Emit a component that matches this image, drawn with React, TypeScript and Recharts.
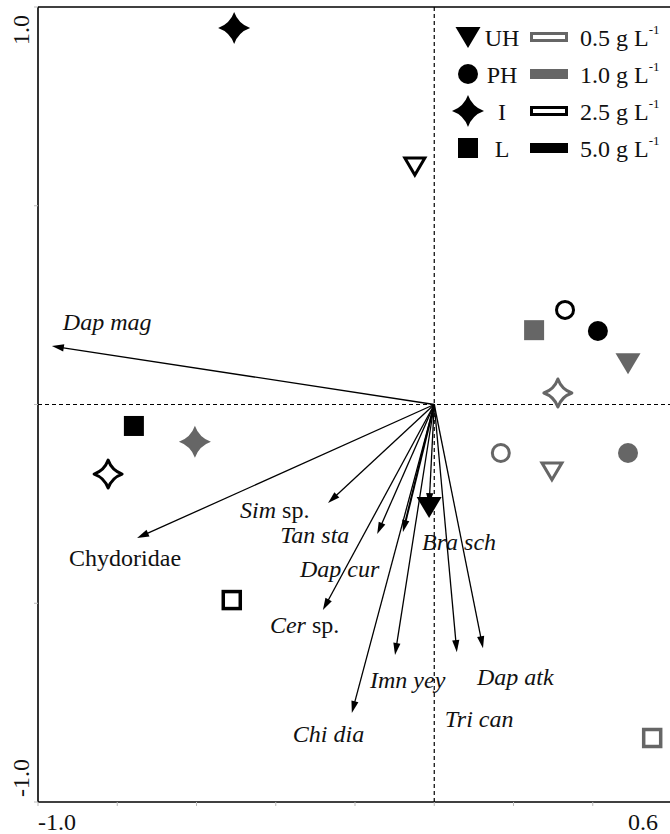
import React from "react";
import { ScatterChart, Scatter, XAxis, YAxis, ReferenceLine, Legend } from "recharts";

// sites and dose levels
const siteNames = ["UH", "PH", "I", "L"];
const doseLabels = ["0.5", "1.0", "2.5", "5.0"];

// sample scores, in dose order 0.5, 1.0, 2.5, 5.0 g/L
const uhX = [0.297, 0.489, -0.049, -0.013];
const uhY = [-0.167, 0.104, 0.6, -0.258];
const phX = [0.168, 0.489, 0.33, 0.413];
const phY = [-0.122, -0.122, 0.238, 0.185];
const iX = [0.312, -0.604, -0.823, -0.505];
const iY = [0.029, -0.094, -0.175, 0.947];
const lX = [0.55, 0.252, -0.511, -0.758];
const lY = [-0.839, 0.187, -0.492, -0.054];

// species arrows
const speciesNames = [
  "Dap mag", "Chydoridae", "Sim sp.", "Tan sta", "Dap cur", "Cer sp.",
  "Bra sch", "Imn yey", "Tri can", "Dap atk", "Chi dia",
];
const speciesX = [-0.965, -0.75, -0.268, -0.144, -0.079, -0.281, -0.013, -0.099, 0.057, 0.123, -0.208];
const speciesY = [0.147, -0.336, -0.248, -0.326, -0.321, -0.517, -0.253, -0.63, -0.623, -0.613, -0.776];

const xTicks = [-1, -0.8, -0.6, -0.4, -0.2, 0, 0.2, 0.4, 0.6];
const yTicks = [-1, -0.5, 0, 0.5, 1];

// label placement relative to arrow tip (px)
const labelOffsets = [
  [11, -16], [-68, 28], [-88, 15], [-97, 9], [-103, 45], [-53, 23],
  [-7, 45], [-25, 33], [-12, 75], [-6, 37], [-59, 29],
];

const GRAY = "#666";
const FONT = "'Liberation Serif', 'Times New Roman', serif";

const siteX = [uhX, phX, iX, lX];
const siteY = [uhY, phY, iY, lY];

function starPath(cx: number, cy: number, r: number) {
  const c = r * 0.26;
  return `M${cx},${cy - r} Q${cx + c},${cy - c} ${cx + r},${cy} Q${cx + c},${cy + c} ${cx},${cy + r} Q${cx - c},${cy + c} ${cx - r},${cy} Q${cx - c},${cy - c} ${cx},${cy - r} Z`;
}

function Marker({ kind, dose, cx, cy }: { kind: number; dose: number; cx: number; cy: number }) {
  const open = dose === 0 || dose === 2;
  const color = dose < 2 ? GRAY : "#000";
  const fill = open ? "#fff" : color;
  const sw = open ? 3 : 0;
  if (kind === 0) {
    const pts = open
      ? `${cx - 10},${cy - 8} ${cx + 10},${cy - 8} ${cx},${cy + 9}`
      : `${cx - 12.5},${cy - 10} ${cx + 12.5},${cy - 10} ${cx},${cy + 11}`;
    return <polygon points={pts} fill={fill} stroke={color} strokeWidth={sw} />;
  }
  if (kind === 1) {
    return <circle cx={cx} cy={cy} r={open ? 8.5 : 10} fill={fill} stroke={color} strokeWidth={sw} />;
  }
  if (kind === 2) {
    return <path d={starPath(cx, cy, open ? 14 : 16)} fill={fill} stroke={color} strokeWidth={sw} strokeLinejoin="round" />;
  }
  const s = open ? 17 : 20;
  return <rect x={cx - s / 2} y={cy - s / 2} width={s} height={s} fill={fill} stroke={color} strokeWidth={open ? 3.5 : 0} />;
}

function speciesLabel(name: string) {
  const parts = name.split(" ");
  if (parts.length === 1) return <tspan>{name}</tspan>;
  return (
    <>
      <tspan fontStyle="italic">{parts[0]}</tspan>
      <tspan fontStyle={parts[1] === "sp." ? "normal" : "italic"}>{" " + parts[1]}</tspan>
    </>
  );
}

function arrowShape(i: number) {
  return (p: any) => {
    const { x1, y1, x2, y2 } = p;
    const a = Math.atan2(y2 - y1, x2 - x1);
    const cos = Math.cos(a);
    const sin = Math.sin(a);
    const len = 12;
    const half = 3.6;
    const bx = x2 - len * cos;
    const by = y2 - len * sin;
    const pts = `${x2},${y2} ${bx - half * sin},${by + half * cos} ${bx + half * sin},${by - half * cos}`;
    const [dx, dy] = labelOffsets[i];
    return (
      <g>
        <line x1={x1} y1={y1} x2={bx + 2 * cos} y2={by + 2 * sin} stroke="#000" strokeWidth={i === 4 ? 2 : 1.3} />
        <polygon points={pts} fill="#000" />
        <text x={x2 + dx} y={y2 + dy} fontSize={24} fontFamily={FONT} fill="#111">
          {speciesLabel(speciesNames[i])}
        </text>
      </g>
    );
  };
}

function XTick(props: any) {
  const { x, y, payload } = props;
  const v = payload.value;
  if (Math.abs(v + 1) < 1e-6) {
    return <text x={x} y={y + 22} textAnchor="start" fontSize={24} fontFamily={FONT} fill="#111">-1.0</text>;
  }
  if (Math.abs(v - 0.6) < 1e-6) {
    return <text x={x - 4} y={y + 22} textAnchor="end" fontSize={24} fontFamily={FONT} fill="#111">0.6</text>;
  }
  return <g />;
}

function YTick(props: any) {
  const { payload } = props;
  const v = payload.value;
  if (Math.abs(v - 1) < 1e-6) {
    return (
      <text x={29} y={15} transform="rotate(-90, 29, 15)" textAnchor="end" fontSize={24} fontFamily={FONT} fill="#111">1.0</text>
    );
  }
  if (Math.abs(v + 1) < 1e-6) {
    return (
      <text x={29} y={797} transform="rotate(-90, 29, 797)" textAnchor="start" fontSize={24} fontFamily={FONT} fill="#111">-1.0</text>
    );
  }
  return <g />;
}

function LegendBox() {
  const rows = [27, 64, 101, 138];
  return (
    <svg width={230} height={165} style={{ overflow: "visible" }}>
      {siteNames.map((s, i) => (
        <g key={s}>
          <Marker kind={i} dose={3} cx={28} cy={rows[i]} />
          <text x={62} y={rows[i] + 9} textAnchor="middle" fontSize={24} fontFamily={FONT} fill="#111">{s}</text>
          <rect
            x={i === 1 || i === 3 ? 90 : 91.5}
            y={rows[i] - (i === 1 || i === 3 ? 5 : 3.5)}
            width={i === 1 || i === 3 ? 38 : 35}
            height={i === 1 || i === 3 ? 10 : 7}
            fill={i === 0 || i === 2 ? "#fff" : i === 1 ? GRAY : "#000"}
            stroke={i === 0 ? GRAY : i === 2 ? "#000" : "none"}
            strokeWidth={3}
          />
          <text x={140} y={rows[i] + 9} fontSize={24} fontFamily={FONT} fill="#111">
            {doseLabels[i] + " g L"}
            <tspan fontSize={13} dy={-12}>-1</tspan>
          </text>
        </g>
      ))}
    </svg>
  );
}

export default function App() {
  const siteData = siteNames.map((_, k) =>
    siteX[k].map((x, d) => ({ x, y: siteY[k][d], dose: d }))
  );
  return (
    <div style={{ position: "absolute", left: 0, top: 0, width: 670, height: 834, overflow: "hidden", fontFamily: FONT, background: "#fff" }}>
      <ScatterChart width={672} height={834} margin={{ top: 7, right: 0, left: 0, bottom: 0 }}>
        <XAxis
          type="number"
          dataKey="x"
          domain={[-1, 0.6]}
          ticks={xTicks}
          allowDataOverflow
          height={32}
          axisLine={{ stroke: "#000", strokeWidth: 1.6 }}
          tickLine={{ stroke: "#bbb" }}
          tickSize={4}
          tick={<XTick />}
        />
        <YAxis
          type="number"
          dataKey="y"
          domain={[-1, 1]}
          ticks={yTicks}
          allowDataOverflow
          width={38}
          axisLine={{ stroke: "#000", strokeWidth: 1.6 }}
          tickLine={{ stroke: "#bbb" }}
          tickSize={4}
          tick={<YTick />}
        />
        <ReferenceLine y={1} stroke="#000" strokeWidth={1.6} ifOverflow="visible" />
        <ReferenceLine x={0.6} stroke="#e4e4e4" strokeWidth={1} ifOverflow="visible" />
        <ReferenceLine x={0} stroke="#000" strokeWidth={1.2} strokeDasharray="4 3" />
        <ReferenceLine y={0} stroke="#000" strokeWidth={1.2} strokeDasharray="4 3" />
        {speciesNames.map((n, i) => (
          <ReferenceLine
            key={n}
            segment={[{ x: 0, y: 0 }, { x: speciesX[i], y: speciesY[i] }]}
            ifOverflow="visible"
            shape={arrowShape(i)}
          />
        ))}
        {siteNames.map((s, k) => (
          <Scatter
            key={s}
            name={s}
            data={siteData[k]}
            isAnimationActive={false}
            shape={(p: any) => <Marker kind={k} dose={p.payload.dose} cx={p.cx} cy={p.cy} />}
          />
        ))}
        <Legend
          layout="horizontal"
          verticalAlign="middle"
          align="center"
          content={() => <LegendBox />}
          wrapperStyle={{ left: 440, top: 10, width: 230, height: 165 }}
        />
      </ScatterChart>
    </div>
  );
}
